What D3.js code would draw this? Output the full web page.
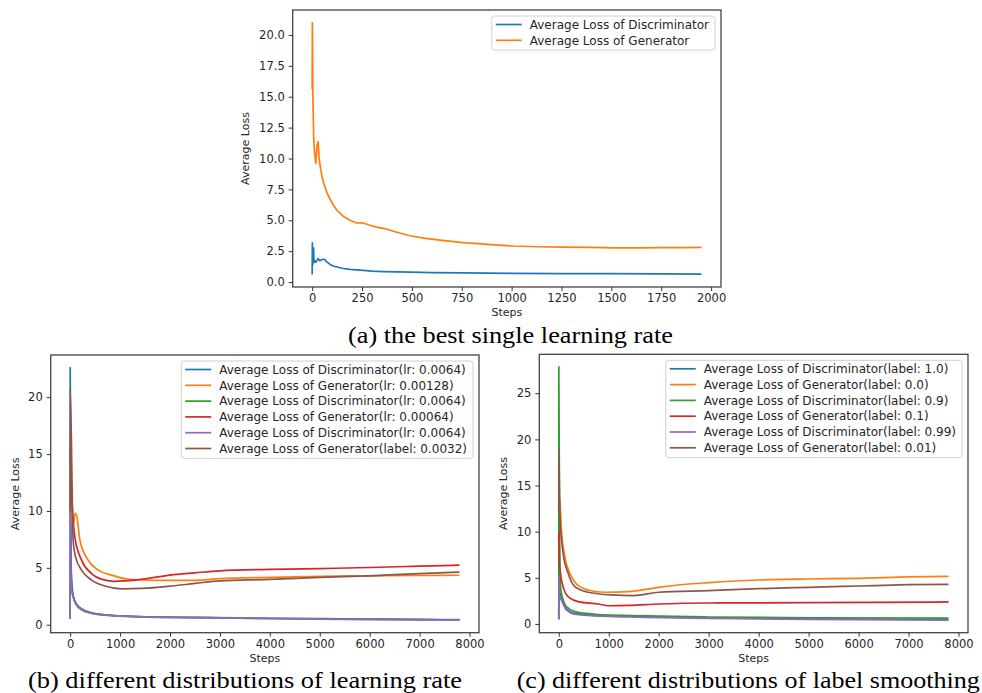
<!DOCTYPE html>
<html>
<head>
<meta charset="utf-8">
<script src="https://cdn.jsdelivr.net/npm/d3@7"></script>
<style>
body { margin: 0; background: #fff; }
svg { display: block; }
.tick text { font-family: "DejaVu Sans"; font-size: 11.5px; fill: #262626; }
</style>
</head>
<body>
<div id="main"></div>
<script>
// ---- panel (a): best single learning rate
const stepsA_D = [0, 1, 3, 5, 7, 9, 12, 18, 24, 30, 38, 45, 55, 64, 72, 88, 105, 130, 156, 190, 240, 300, 356, 423, 490, 600, 757, 1000, 1259, 1500, 1750, 1952];
const lossA_D  = [0.62, 3.17, 1.4, 1.7, 2.75, 1.6, 1.75, 1.6, 1.75, 1.9, 1.72, 1.8, 1.85, 1.82, 1.65, 1.45, 1.3, 1.2, 1.1, 1.03, 0.96, 0.89, 0.85, 0.82, 0.8, 0.77, 0.74, 0.7, 0.69, 0.68, 0.67, 0.65];
const stepsA_G = [0, 1, 4, 8, 12, 18, 25, 30, 35, 42, 50, 62, 75, 90, 105, 125, 156, 190, 223, 250, 290, 323, 370, 420, 490, 560, 640, 757, 880, 1008, 1130, 1259, 1400, 1510, 1640, 1760, 1860, 1952];
const lossA_G  = [15.6, 21.0, 14.5, 11.6, 10.5, 9.6, 11.1, 11.35, 10.0, 9.2, 8.5, 7.8, 7.2, 6.7, 6.26, 5.8, 5.31, 5.0, 4.78, 4.8, 4.6, 4.45, 4.3, 4.05, 3.75, 3.55, 3.4, 3.2, 3.05, 2.92, 2.86, 2.83, 2.8, 2.77, 2.77, 2.78, 2.79, 2.8];
const labelsA = ["Average Loss of Discriminator", "Average Loss of Generator"];

// ---- panel (b): learning rate distributions
const stepsB_disc = [0, 1, 20, 60, 128, 228, 429, 763, 1365, 2500, 4000, 5500, 7000, 7800];
const lossB_D1 = [0.5, 22.6, 5.0, 2.6, 1.8, 1.4, 1.05, 0.85, 0.72, 0.64, 0.57, 0.52, 0.47, 0.45];
const lossB_D2 = [0.55, 5.5, 3.6, 2.5, 1.78, 1.38, 1.02, 0.84, 0.71, 0.63, 0.55, 0.5, 0.45, 0.43];
const lossB_D3 = [0.5, 10.3, 3.4, 2.4, 1.7, 1.32, 1.0, 0.82, 0.7, 0.62, 0.54, 0.48, 0.43, 0.41];
const stepsB_G1 = [0, 20, 60, 100, 130, 195, 362, 563, 830, 1165, 1700, 2500, 3000, 4000, 5000, 6000, 7000, 7800];
const lossB_G1  = [16, 9.2, 8.7, 9.8, 9.6, 7.43, 5.67, 4.8, 4.36, 4.0, 3.9, 3.9, 4.05, 4.17, 4.25, 4.3, 4.33, 4.35];
const stepsB_G2 = [0, 20, 94, 228, 429, 696, 870, 1100, 1532, 2000, 2500, 3000, 4000, 5000, 6000, 7000, 7800];
const lossB_G2  = [15.5, 12.7, 7.7, 5.68, 4.5, 3.92, 3.82, 3.85, 4.05, 4.36, 4.56, 4.74, 4.86, 4.94, 5.03, 5.15, 5.24];
const stepsB_G3 = [0, 1, 60, 108, 228, 429, 696, 1031, 1432, 2000, 2500, 3000, 4000, 5000, 6000, 7000, 7800];
const lossB_G3  = [10, 20.8, 7.4, 5.97, 4.8, 3.92, 3.4, 3.15, 3.19, 3.39, 3.63, 3.86, 3.98, 4.16, 4.3, 4.5, 4.62];
const labelsB = [
  "Average Loss of Discriminator(lr: 0.0064)",
  "Average Loss of Generator(lr: 0.00128)",
  "Average Loss of Discriminator(lr: 0.0064)",
  "Average Loss of Generator(lr: 0.00064)",
  "Average Loss of Discriminator(lr: 0.0064)",
  "Average Loss of Generator(label: 0.0032)"
];

// ---- panel (c): label smoothing distributions
const stepsC_disc = [0, 1, 20, 53, 153, 320, 721, 1723, 3000, 5000, 7800];
const lossC_D1 = [0.5, 5.2, 3.4, 2.8, 1.65, 1.15, 0.93, 0.78, 0.65, 0.55, 0.5];
const lossC_D2 = [0.5, 27.85, 5.5, 3.3, 1.88, 1.33, 1.05, 0.87, 0.75, 0.67, 0.62];
const lossC_D3 = [0.5, 5.1, 3.0, 2.57, 1.52, 1.05, 0.87, 0.72, 0.6, 0.5, 0.42];
const stepsC_G1 = [0, 20, 53, 120, 220, 354, 587, 922, 1389, 2000, 2391, 3000, 4000, 5000, 6000, 7000, 7800];
const lossC_G1  = [12.5, 13.6, 10.2, 7.3, 5.5, 4.33, 3.68, 3.43, 3.5, 3.97, 4.22, 4.47, 4.76, 4.87, 4.94, 5.09, 5.16];
const stepsC_G2 = [0, 1, 20, 87, 187, 387, 788, 1000, 1400, 2000, 3000, 5000, 7800];
const lossC_G2  = [9, 10, 6.2, 4.04, 2.95, 2.42, 2.16, 1.97, 2.0, 2.16, 2.27, 2.3, 2.38];
const stepsC_G3 = [0, 1, 20, 87, 187, 320, 587, 1055, 1500, 2000, 3000, 4000, 5000, 6000, 7000, 7800];
const lossC_G3  = [12, 18.9, 12, 7.65, 5.49, 4.04, 3.43, 3.14, 3.07, 3.43, 3.6, 3.82, 3.97, 4.11, 4.25, 4.29];
const labelsC = [
  "Average Loss of Discriminator(label: 1.0)",
  "Average Loss of Generator(label: 0.0)",
  "Average Loss of Discriminator(label: 0.9)",
  "Average Loss of Generator(label: 0.1)",
  "Average Loss of Discriminator(label: 0.99)",
  "Average Loss of Generator(label: 0.01)"
];

const colors = ["#1f77b4", "#ff7f0e", "#2ca02c", "#d62728", "#9467bd", "#8c564b"];

const zip = (xs, ys) => xs.map((x, i) => ({ x: x, y: ys[i] }));

const panels = [
  {
    frame: { left: 292.7, right: 721, top: 10, bottom: 287 },
    series: [zip(stepsA_D, lossA_D), zip(stepsA_G, lossA_G)],
    labels: labelsA,
    xTicks: d3.range(0, 2001, 250),
    yTicks: d3.range(0, 20.01, 2.5),
    yFmt: d3.format(".1f"),
    yLabelX: 245,
    curve: d3.curveLinear,
    caption: "(a) the best single learning rate",
    capX: 348, capW: 325, capY: 343
  },
  {
    frame: { left: 50.7, right: 479, top: 355, bottom: 632.7 },
    series: [zip(stepsB_disc, lossB_D1), zip(stepsB_G1, lossB_G1), zip(stepsB_disc, lossB_D2),
             zip(stepsB_G2, lossB_G2), zip(stepsB_disc, lossB_D3), zip(stepsB_G3, lossB_G3)],
    labels: labelsB,
    xTicks: d3.range(0, 8001, 1000),
    yTicks: d3.range(0, 21, 5),
    yFmt: d3.format("d"),
    yLabelX: 15,
    curve: d3.curveMonotoneX,
    caption: "(b) different distributions of learning rate",
    capX: 28, capW: 434, capY: 688
  },
  {
    frame: { left: 539.3, right: 968, top: 354.3, bottom: 632.7 },
    series: [zip(stepsC_disc, lossC_D1), zip(stepsC_G1, lossC_G1), zip(stepsC_disc, lossC_D2),
             zip(stepsC_G2, lossC_G2), zip(stepsC_disc, lossC_D3), zip(stepsC_G3, lossC_G3)],
    labels: labelsC,
    xTicks: d3.range(0, 8001, 1000),
    yTicks: d3.range(0, 26, 5),
    yFmt: d3.format("d"),
    yLabelX: 503,
    curve: d3.curveMonotoneX,
    caption: "(c) different distributions of label smoothing",
    capX: 516.7, capW: 463, capY: 688
  }
];

const svg = d3.select("#main").append("svg")
  .attr("width", 982)
  .attr("height", 693);

// matplotlib style 5% margins
function padded(ext) {
  const m = (ext[1] - ext[0]) * 0.05;
  return [ext[0] - m, ext[1] + m];
}

function drawPanel(p) {
  const f = p.frame;
  const all = p.series.flat();
  const x = d3.scaleLinear().domain(padded(d3.extent(all, d => d.x))).range([f.left, f.right]);
  const y = d3.scaleLinear().domain(padded(d3.extent(all, d => d.y))).range([f.bottom, f.top]);

  const g = svg.append("g");

  const line = d3.line().curve(p.curve).x(d => x(d.x)).y(d => y(d.y));

  g.selectAll("path.series")
    .data(p.series)
    .enter().append("path")
    .attr("class", "series")
    .attr("d", line)
    .attr("fill", "none")
    .attr("stroke", (d, i) => colors[i])
    .attr("stroke-width", 1.7)
    .attr("stroke-linejoin", "round");

  // frame
  g.append("rect")
    .attr("x", f.left).attr("y", f.top)
    .attr("width", f.right - f.left).attr("height", f.bottom - f.top)
    .attr("fill", "none")
    .attr("stroke", "#444")
    .attr("stroke-width", 1.3);

  const xAxis = g.append("g")
    .attr("transform", `translate(0,${f.bottom})`)
    .call(d3.axisBottom(x).tickValues(p.xTicks).tickFormat(d3.format("d")).tickSize(4).tickPadding(3));
  const yAxis = g.append("g")
    .attr("transform", `translate(${f.left},0)`)
    .call(d3.axisLeft(y).tickValues(p.yTicks).tickFormat(p.yFmt).tickSize(4).tickPadding(4));
  [xAxis, yAxis].forEach(a => {
    a.select(".domain").remove();
    a.selectAll(".tick line").attr("stroke", "#333");
  });

  g.append("text")
    .attr("x", (f.left + f.right) / 2)
    .attr("y", f.bottom + 29)
    .attr("text-anchor", "middle")
    .style("font-family", "DejaVu Sans")
    .style("font-size", "11px")
    .style("fill", "#262626")
    .text("Steps");

  g.append("text")
    .attr("transform", `translate(${p.yLabelX},${(f.top + f.bottom) / 2}) rotate(-90)`)
    .attr("text-anchor", "middle")
    .attr("dominant-baseline", "central")
    .style("font-family", "DejaVu Sans")
    .style("font-size", "11px")
    .style("fill", "#262626")
    .text("Average Loss");

  // legend (upper right)
  const rowH = 15.8;
  const leg = g.append("g");
  const box = leg.append("rect");
  const rows = leg.selectAll("g.row")
    .data(p.labels)
    .enter().append("g")
    .attr("class", "row")
    .attr("transform", (d, i) => `translate(0,${8.5 + i * rowH})`);
  rows.append("line")
    .attr("x1", 4).attr("x2", 30)
    .attr("stroke", (d, i) => colors[i])
    .attr("stroke-width", 1.7);
  rows.append("text")
    .attr("x", 38)
    .attr("dy", "0.35em")
    .style("font-family", "DejaVu Sans")
    .style("font-size", "12px")
    .style("fill", "#262626")
    .text(d => d);
  let maxW = 0;
  rows.select("text").each(function() { maxW = Math.max(maxW, this.getComputedTextLength()); });
  const boxW = 38 + maxW + 6;
  const boxH = p.labels.length * rowH + 2.5;
  box.attr("width", boxW).attr("height", boxH)
    .attr("rx", 3)
    .attr("fill", "#fff").attr("fill-opacity", 0.8)
    .attr("stroke", "#d0d0d0");
  leg.attr("transform", `translate(${f.right - 6 - boxW},${f.top + 6})`);

  // caption below the panel
  svg.append("text")
    .attr("x", p.capX)
    .attr("y", p.capY)
    .attr("textLength", p.capW)
    .attr("lengthAdjust", "spacingAndGlyphs")
    .style("font-family", "'Liberation Serif', 'Times New Roman', serif")
    .style("font-size", "24px")
    .style("fill", "#000")
    .text(p.caption);
}

panels.forEach(drawPanel);
</script>
</body>
</html>
